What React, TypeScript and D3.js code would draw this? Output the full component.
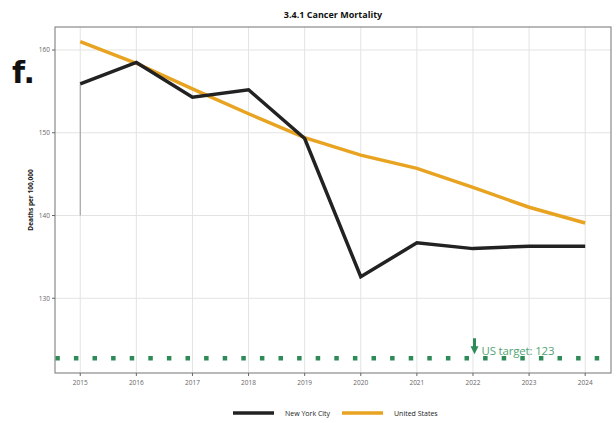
import React from "react";
import * as d3 from "d3";

const years = [2015, 2016, 2017, 2018, 2019, 2020, 2021, 2022, 2023, 2024];
const nycValues = [155.9, 158.5, 154.3, 155.2, 149.3, 132.6, 136.7, 136.0, 136.3, 136.3];
const usValues = [161.0, 158.4, 155.3, 152.3, 149.4, 147.3, 145.7, 143.4, 141.0, 139.1];
const yTicks = [130, 140, 150, 160];
const usTarget = 123;
const usTargetLine = 122.75;
const seriesNames = ["New York City", "United States"];
const seriesColors = ["#222222", "#e8a321"];

const W = 616;
const H = 423;
const margin = { top: 27, right: 5, bottom: 50, left: 55 };

export default function App() {
  const x = d3
    .scaleLinear()
    .domain([2014.55, 2024.46])
    .range([margin.left, W - margin.right]);
  const y = d3
    .scaleLinear()
    .domain([120.97, 162.78])
    .range([H - margin.bottom, margin.top]);

  const line = d3
    .line<number>()
    .x((_, i) => x(years[i]))
    .y((d) => y(d));

  const pTop = margin.top;
  const pBot = H - margin.bottom;
  const pLeft = margin.left;
  const pRight = W - margin.right;
  const font = "'Open Sans', 'DejaVu Sans', sans-serif";
  const ax = x(2022) + 1.5;
  const ty = y(usTargetLine);

  return (
    <svg
      width={W}
      height={H}
      style={{ position: "absolute", left: 0, top: 0, background: "#fff" }}
      fontFamily={font}
    >
      {/* grid */}
      {years.map((yr) => (
        <line key={"gx" + yr} x1={x(yr)} x2={x(yr)} y1={pTop} y2={pBot} stroke="#e3e3e3" strokeWidth={1} />
      ))}
      {yTicks.map((t) => (
        <line key={"gy" + t} x1={pLeft} x2={pRight} y1={y(t)} y2={y(t)} stroke="#e3e3e3" strokeWidth={1} />
      ))}

      {/* annotation segment at 2015 */}
      <line x1={x(2015)} x2={x(2015)} y1={y(nycValues[0])} y2={y(140)} stroke="#999" strokeWidth={1} />

      {/* target line */}
      <line
        x1={pLeft + 0.3}
        x2={pRight - 8}
        y1={ty}
        y2={ty}
        stroke="#2e8b57"
        strokeWidth={4.5}
        strokeDasharray="4.5 14.1"
      />
      <line x1={ax} x2={ax} y1={ty - 20} y2={ty - 10} stroke="#2e8b57" strokeWidth={3} />
      <path d={`M${ax - 4},${ty - 12} L${ax + 4},${ty - 12} L${ax},${ty - 4} Z`} fill="#2e8b57" />
      <text x={ax + 7} y={ty - 3.5} fontSize={11.5} fill="#55a375" textLength={73}>
        US target: {usTarget}
      </text>

      {/* series */}
      <path d={line(usValues) ?? ""} fill="none" stroke={seriesColors[1]} strokeWidth={3.5} />
      <path d={line(nycValues) ?? ""} fill="none" stroke={seriesColors[0]} strokeWidth={3.5} />

      {/* panel border */}
      <rect x={pLeft} y={pTop} width={pRight - pLeft} height={pBot - pTop} fill="none" stroke="#8a8a8a" strokeWidth={1.2} />

      {/* axes ticks */}
      {years.map((yr) => (
        <g key={"xt" + yr}>
          <line x1={x(yr)} x2={x(yr)} y1={pBot} y2={pBot + 3} stroke="#666" />
          <text x={x(yr)} y={pBot + 12} fontSize={6.5} fill="#666" textAnchor="middle">
            {yr}
          </text>
        </g>
      ))}
      {yTicks.map((t) => (
        <g key={"yt" + t}>
          <line x1={pLeft - 3} x2={pLeft} y1={y(t)} y2={y(t)} stroke="#666" />
          <text x={pLeft - 5} y={y(t) + 2.3} fontSize={6.5} fill="#666" textAnchor="end">
            {t}
          </text>
        </g>
      ))}

      {/* titles */}
      <text x={333} y={18} fontSize={9} fontWeight="bold" textAnchor="middle" fill="#111">
        3.4.1 Cancer Mortality
      </text>
      <text
        transform={`translate(33,${(pTop + pBot) / 2}) rotate(-90)`}
        fontSize={6.5}
        fontWeight="bold"
        textAnchor="middle"
        fill="#111"
      >
        Deaths per 100,000
      </text>
      <text x={12} y={83} fontSize={30} fontWeight="bold" fill="#111" fontFamily="'DejaVu Sans', sans-serif">
        f.
      </text>

      {/* legend */}
      {seriesNames.map((n, i) => (
        <g key={n} transform={`translate(${233 + i * 109},413)`}>
          <line x1={0} x2={41} y1={0} y2={0} stroke={seriesColors[i]} strokeWidth={3.5} />
          <text x={52} y={2.5} fontSize={7} fill="#222">
            {n}
          </text>
        </g>
      ))}
    </svg>
  );
}
